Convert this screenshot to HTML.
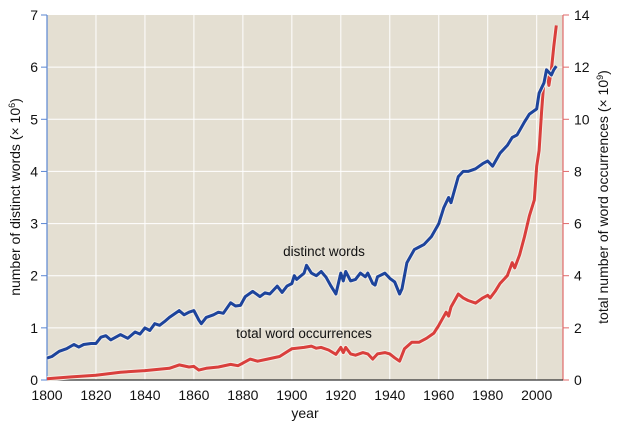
<!DOCTYPE html>
<html><head><meta charset="utf-8"><style>
html,body{margin:0;padding:0;background:#fff;}
svg text{font-family:"Liberation Sans",Arial,sans-serif;fill:#111;}
</style></head><body>
<svg id="chart" width="620" height="430" viewBox="0 0 620 430" xmlns="http://www.w3.org/2000/svg">
<rect x="47" y="15" width="516" height="365" fill="#e4dfd2"/>
<g id="grid"></g>
<g id="axes"></g>
<g id="series"></g>
<text x="324" y="256" font-size="13.5" text-anchor="middle">distinct words</text>
<text x="304" y="338" font-size="13.5" text-anchor="middle">total word occurrences</text>
<text x="305" y="418" font-size="14" text-anchor="middle">year</text>
<text transform="translate(20,197) rotate(-90)" font-size="14" text-anchor="middle">number of distinct words (× 10<tspan dy="-5" font-size="9">6</tspan><tspan dy="5">)</tspan></text>
<text transform="translate(608,197) rotate(-90)" font-size="14" text-anchor="middle">total number of word occurrences (× 10<tspan dy="-5" font-size="9">9</tspan><tspan dy="5">)</tspan></text>
</svg>
<script>
const xTicks=[1800,1820,1840,1860,1880,1900,1920,1940,1960,1980,2000];
const leftTicks=[0,1,2,3,4,5,6,7];
const rightTicks=[0,2,4,6,8,10,12,14];
const distinctYears=[1800,1802,1805,1808,1811,1813,1815,1818,1820,1822,1824,1826,1830,1833,1836,1838,1840,1842,1844,1846,1848,1850,1854,1856,1858,1860,1862,1863,1865,1868,1870,1872,1875,1877,1879,1881,1884,1887,1889,1891,1894,1896,1898,1900,1901,1902,1905,1906,1908,1910,1912,1914,1916,1918,1920,1921,1922,1924,1926,1928,1930,1931,1933,1934,1935,1938,1940,1942,1944,1945,1947,1950,1952,1954,1957,1960,1962,1964,1965,1968,1970,1972,1975,1978,1980,1982,1985,1988,1990,1992,1995,1997,2000,2001,2003,2004,2006,2007,2008];
const distinctValues=[0.42,0.45,0.55,0.6,0.68,0.63,0.68,0.7,0.7,0.82,0.85,0.77,0.87,0.8,0.92,0.88,1.0,0.95,1.08,1.05,1.12,1.2,1.33,1.25,1.3,1.33,1.15,1.08,1.2,1.25,1.3,1.28,1.48,1.42,1.43,1.6,1.7,1.6,1.67,1.65,1.8,1.68,1.8,1.85,2.0,1.93,2.05,2.2,2.05,2.0,2.08,1.97,1.8,1.65,2.05,1.9,2.08,1.9,1.93,2.05,1.98,2.05,1.85,1.82,1.98,2.05,1.95,1.88,1.65,1.75,2.25,2.5,2.55,2.6,2.75,3.0,3.3,3.5,3.4,3.9,4.0,4.0,4.05,4.15,4.2,4.1,4.35,4.5,4.65,4.7,4.95,5.1,5.2,5.5,5.7,5.95,5.85,5.95,6.02];
const totalYears=[1800,1810,1820,1830,1840,1850,1854,1858,1860,1862,1865,1870,1875,1878,1880,1883,1886,1890,1895,1900,1905,1908,1910,1912,1915,1918,1920,1921,1922,1924,1926,1929,1931,1933,1935,1938,1940,1942,1944,1946,1949,1952,1955,1958,1960,1963,1964,1965,1968,1970,1972,1975,1978,1980,1981,1983,1985,1988,1990,1991,1993,1995,1997,1999,2000,2001,2002,2003,2004,2005,2006,2007,2008];
const totalValues=[0.05,0.12,0.18,0.3,0.36,0.45,0.58,0.5,0.52,0.38,0.45,0.5,0.6,0.55,0.65,0.8,0.72,0.8,0.9,1.2,1.25,1.3,1.22,1.25,1.15,0.98,1.25,1.05,1.25,1.0,0.95,1.05,1.0,0.8,1.0,1.05,1.0,0.85,0.72,1.2,1.45,1.45,1.6,1.8,2.1,2.6,2.45,2.8,3.3,3.15,3.05,2.95,3.15,3.25,3.15,3.4,3.7,4.0,4.5,4.3,4.8,5.5,6.3,6.9,8.2,8.8,10.3,11.5,11.9,11.3,11.9,12.8,13.6];

const X0=47,X1=563,Y0=380,Y1=15;
const xScale=y=>X0+(y-1800)*(536.7-X0)/200;
const yLeft=v=>Y0-v*(Y0-Y1)/7;
const yRight=v=>Y0-v*(Y0-Y1)/14;
const NS="http://www.w3.org/2000/svg";
function mk(tag,attrs,parent){const e=document.createElementNS(NS,tag);for(const k in attrs)e.setAttribute(k,attrs[k]);parent.appendChild(e);return e;}
const grid=document.getElementById('grid'),axes=document.getElementById('axes'),series=document.getElementById('series');
xTicks.forEach(t=>{
  const x=xScale(t);
  const g=mk('line',{x1:x,x2:x,y1:Y1,y2:Y0,stroke:'#fff','stroke-width':1},grid);
  
  
  const tx=mk('text',{x:x,y:Y0+20,'font-size':14,'text-anchor':'middle'},axes);
  tx.textContent=t;
  
  
});
leftTicks.forEach(t=>{
  const y=yLeft(t);
  if(t>0&&t<7){const g=mk('line',{x1:X0,x2:X1,y1:y,y2:y,stroke:'#fff','stroke-width':1},grid);
  
  }
  const tk=mk('line',{x1:X0-6,x2:X0,y1:y,y2:y,stroke:'#5a86d2','stroke-width':1},axes);
  
  
  const tx=mk('text',{x:X0-9,y:y+5,'font-size':14,'text-anchor':'end'},axes);
  tx.textContent=t;
  
  
});
rightTicks.forEach(t=>{
  const y=yRight(t);
  const tk=mk('line',{x1:X1,x2:X1+6,y1:y,y2:y,stroke:'#e06a6a','stroke-width':1},axes);
  
  
  const tx=mk('text',{x:X1+11,y:y+5,'font-size':14,'text-anchor':'start'},axes);
  tx.textContent=t;
  
  
});
const la=mk('line',{x1:X0,x2:X0,y1:Y1,y2:Y0,stroke:'#5a86d2','stroke-width':1.2},axes);


const ra=mk('line',{x1:X1,x2:X1,y1:Y1,y2:Y0,stroke:'#e06a6a','stroke-width':1.2},axes);


const xa=mk('line',{x1:X0,x2:X1,y1:Y0,y2:Y0,stroke:'#333','stroke-width':1.2},axes);


function pathFor(xs,vs,ys){return xs.map((y,i)=>(i?'L':'M')+xScale(y).toFixed(1)+','+ys(vs[i]).toFixed(1)).join(' ');}
const dBlue=pathFor(distinctYears,distinctValues,yLeft);
const dRed=pathFor(totalYears,totalValues,yRight);
const h1=mk('path',{d:dRed,fill:'none',stroke:'#f3eee6','stroke-width':5,'stroke-linejoin':'round'},series);


const r=mk('path',{d:dRed,fill:'none',stroke:'#d93f3c','stroke-width':3,'stroke-linejoin':'round'},series);


const h2=mk('path',{d:dBlue,fill:'none',stroke:'#f3eee6','stroke-width':5,'stroke-linejoin':'round'},series);


const b=mk('path',{d:dBlue,fill:'none',stroke:'#1d449c','stroke-width':3,'stroke-linejoin':'round'},series);


</script>
</body></html>
